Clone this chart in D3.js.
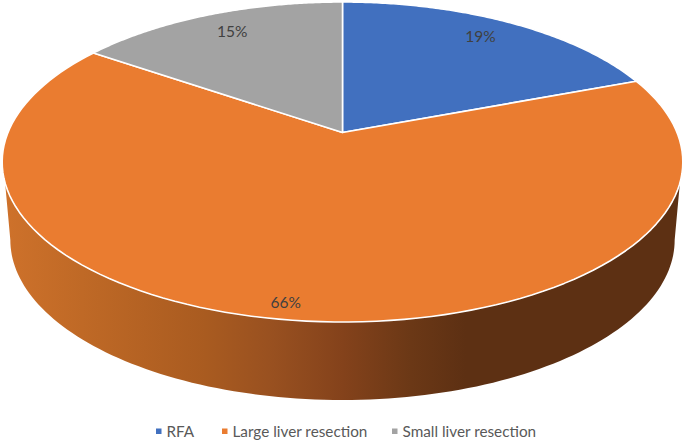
<!DOCTYPE html>
<html><head><meta charset="utf-8">
<script src="https://cdn.jsdelivr.net/npm/d3@7/dist/d3.min.js"></script>
<style>html,body{margin:0;background:#fff}svg{display:block}text{font-family:Lato,"Open Sans",sans-serif}</style>
</head><body><svg id="c" width="685" height="441"></svg>
<script>
const categories = ["RFA", "Large liver resection", "Small liver resection"];
const values = [19.3, 65.5, 15.4];
const colors = ["#4170BF", "#EA7C30", "#A3A3A3"];
const labelRadii = [0.84, 0.924, 0.835];
const labelTurnDeg = [-1, 1.8, 1];

const svg = d3.select("#c");
const cx = 342.5, top_ = 2, mid = 132.5, bot = 322, halfW = 334.5;
// perspective view of the disc: far rim at top_, disc centre at mid, near rim at bot
const c = ((mid - top_) - (bot - mid)) / (bot - top_);
const a = bot * (1 + c) - mid;
function project(r, t) {
  const u = r * Math.sin(t), v = -r * Math.cos(t), den = 1 + c * v;
  return [cx + halfW * u / den, (a * v + mid) / den];
}
const depth = 78, shrink = 0.976;
const lower = ([x, y]) => [cx + (x - cx) * shrink, y + depth];
const line = d3.line();
const arcPts = (t0, t1, fn = p => p) =>
  d3.range(0, 121).map(i => fn(project(1, t0 + (t1 - t0) * i / 120)));
const thetaAtY = y => Math.acos(-(y - mid) / (a - c * y));

const grad = svg.append("defs").append("linearGradient").attr("id", "wall")
  .attr("gradientUnits", "userSpaceOnUse").attr("x1", 0).attr("x2", 685).attr("y1", 0).attr("y2", 0);
[[0, "#CF722B"], [0.12, "#BF6926"], [0.3, "#A95B20"], [0.4, "#985020"], [0.5, "#84421B"], [0.6, "#6B3816"], [0.68, "#5D3013"], [1, "#5D3013"]]
  .forEach(([o, col]) => grad.append("stop").attr("offset", o).attr("stop-color", col));

const tTop = thetaAtY(183), tBase = thetaAtY(240 - depth);
const wallPts = arcPts(tTop, 2 * Math.PI - tTop)
  .concat(arcPts(2 * Math.PI - tBase, tBase, lower));
svg.append("path").attr("d", line(wallPts) + "Z").attr("fill", "url(#wall)");

const pie = d3.pie().sort(null).value(d => d)(values);
svg.append("g").selectAll("path").data(pie).join("path")
  .attr("d", d => line([project(0, 0), ...arcPts(d.startAngle, d.endAngle)]) + "Z")
  .attr("fill", (d, i) => colors[i])
  .attr("stroke", "#fff").attr("stroke-width", 1.6).attr("stroke-linejoin", "round");

svg.append("g").selectAll("text").data(pie).join("text")
  .attr("transform", (d, i) => {
    const t = (d.startAngle + d.endAngle) / 2 + labelTurnDeg[i] * Math.PI / 180;
    const p = project(labelRadii[i], t);
    return `translate(${p[0]},${p[1]})`;
  })
  .attr("text-anchor", "middle").attr("dy", "0.36em")
  .attr("font-size", 15.5).attr("fill", "#404040")
  .text(d => d3.format(".0f")(d.value) + "%");

const legendX = d3.scaleOrdinal().domain(categories).range([156, 222, 392]);
const lg = svg.append("g").selectAll("g").data(categories).join("g")
  .attr("transform", d => `translate(${legendX(d)},431)`);
lg.append("rect").attr("x", 0).attr("y", -2.5).attr("width", 5.5).attr("height", 5.5)
  .attr("fill", (d, i) => colors[i]);
lg.append("text").attr("x", 10.5).attr("dy", "0.36em").attr("font-size", 15.3)
  .attr("fill", "#595959").text(d => d);
</script></body></html>
